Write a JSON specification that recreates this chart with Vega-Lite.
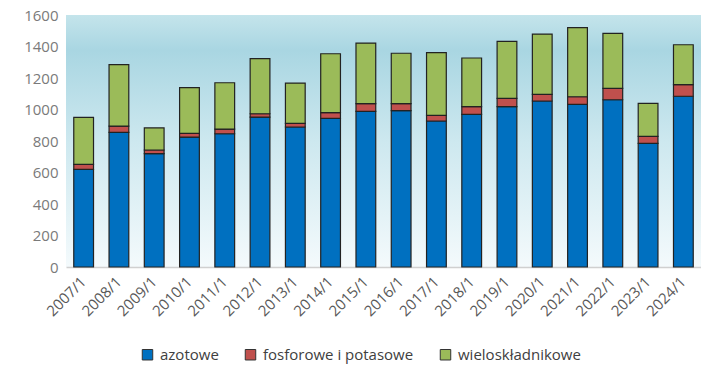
{
  "$schema": "https://vega.github.io/schema/vega-lite/v6.json",
  "width": 635,
  "height": 252,
  "autosize": {"type": "none"},
  "padding": {"left": 66, "top": 15, "right": 0, "bottom": 98},
  "background": "#ffffff",
  "data": {
    "values": [
      {"okres": "2007/1", "azotowe": 620, "fosforowe i potasowe": 32, "wieloskładnikowe": 298},
      {"okres": "2008/1", "azotowe": 855, "fosforowe i potasowe": 40, "wieloskładnikowe": 390},
      {"okres": "2009/1", "azotowe": 720, "fosforowe i potasowe": 23, "wieloskładnikowe": 140},
      {"okres": "2010/1", "azotowe": 825, "fosforowe i potasowe": 24, "wieloskładnikowe": 290},
      {"okres": "2011/1", "azotowe": 846, "fosforowe i potasowe": 30, "wieloskładnikowe": 294},
      {"okres": "2012/1", "azotowe": 952, "fosforowe i potasowe": 21, "wieloskładnikowe": 350},
      {"okres": "2013/1", "azotowe": 889, "fosforowe i potasowe": 23, "wieloskładnikowe": 256},
      {"okres": "2014/1", "azotowe": 944, "fosforowe i potasowe": 36, "wieloskładnikowe": 374},
      {"okres": "2015/1", "azotowe": 988, "fosforowe i potasowe": 49, "wieloskładnikowe": 385},
      {"okres": "2016/1", "azotowe": 993, "fosforowe i potasowe": 44, "wieloskładnikowe": 320},
      {"okres": "2017/1", "azotowe": 927, "fosforowe i potasowe": 36, "wieloskładnikowe": 398},
      {"okres": "2018/1", "azotowe": 969, "fosforowe i potasowe": 49, "wieloskładnikowe": 309},
      {"okres": "2019/1", "azotowe": 1018, "fosforowe i potasowe": 53, "wieloskładnikowe": 362},
      {"okres": "2020/1", "azotowe": 1054, "fosforowe i potasowe": 42, "wieloskładnikowe": 383},
      {"okres": "2021/1", "azotowe": 1033, "fosforowe i potasowe": 48, "wieloskładnikowe": 439},
      {"okres": "2022/1", "azotowe": 1062, "fosforowe i potasowe": 72, "wieloskładnikowe": 349},
      {"okres": "2023/1", "azotowe": 785, "fosforowe i potasowe": 45, "wieloskładnikowe": 209},
      {"okres": "2024/1", "azotowe": 1084, "fosforowe i potasowe": 74, "wieloskładnikowe": 253}
    ]
  },
  "transform": [
    {"fold": ["azotowe", "fosforowe i potasowe", "wieloskładnikowe"], "as": ["rodzaj", "wartosc"]}
  ],
  "mark": {"type": "bar", "stroke": "#222222", "strokeWidth": 1.2},
  "encoding": {
    "x": {
      "field": "okres",
      "type": "nominal",
      "sort": null,
      "scale": {"paddingInner": 0.44, "paddingOuter": 0.22},
      "axis": {
        "title": null,
        "labelAngle": -45,
        "labelAlign": "right",
        "labelBaseline": "middle",
        "labelFont": "Open Sans",
        "labelFontSize": 15,
        "labelColor": "#595959",
        "labelPadding": 12,
        "ticks": false,
        "domainColor": "#d0d0d0",
        "domainWidth": 1.5
      }
    },
    "y": {
      "field": "wartosc",
      "type": "quantitative",
      "stack": "zero",
      "scale": {"domain": [0, 1600], "nice": false},
      "axis": {
        "title": null,
        "values": [0, 200, 400, 600, 800, 1000, 1200, 1400, 1600],
        "format": "d",
        "grid": false,
        "domain": false,
        "ticks": false,
        "labelFont": "Open Sans",
        "labelFontSize": 15,
        "labelColor": "#7a7a7a",
        "labelPadding": 8
      }
    },
    "color": {
      "field": "rodzaj",
      "type": "nominal",
      "scale": {
        "domain": ["azotowe", "fosforowe i potasowe", "wieloskładnikowe"],
        "range": ["#0070C0", "#C0504D", "#9BBB59"]
      },
      "legend": {
        "title": null,
        "orient": "none",
        "direction": "horizontal",
        "legendX": 74,
        "legendY": 332,
        "symbolType": "square",
        "symbolSize": 110,
        "symbolStrokeColor": "#333333",
        "symbolStrokeWidth": 1,
        "labelFont": "Open Sans",
        "labelFontSize": 15,
        "labelColor": "#404040",
        "labelOffset": 5,
        "columnPadding": 24
      }
    },
    "order": {"field": "rodzaj", "sort": "ascending"}
  },
  "config": {
    "view": {
      "stroke": null,
      "fill": {
        "gradient": "linear",
        "x1": 0, "y1": 0, "x2": 0, "y2": 1,
        "stops": [
          {"offset": 0, "color": "#c4e4eb"},
          {"offset": 0.14, "color": "#a9d6e2"},
          {"offset": 0.5, "color": "#cde8ef"},
          {"offset": 1, "color": "#f4fafc"}
        ]
      }
    }
  }
}
